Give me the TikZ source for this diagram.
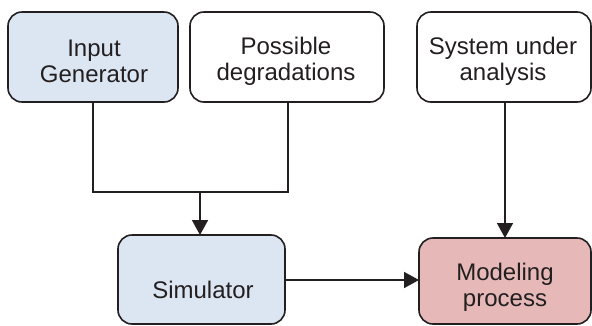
\documentclass[tikz,border=0pt]{standalone}
\usepackage{fontspec}
\setmainfont{Liberation Sans}
\usetikzlibrary{arrows.meta}
\definecolor{bluefill}{HTML}{DCE6F2}
\definecolor{pinkfill}{HTML}{E6B9B8}
\definecolor{edge}{HTML}{231F20}
\begin{document}
\begin{tikzpicture}[x=1pt,y=-1pt,
  box/.style={draw=edge,line width=1.6pt,rounded corners=14pt},
  lbl/.style={font=\fontsize{24}{26}\selectfont,align=center,text=edge,inner sep=0pt},
  conn/.style={draw=edge,line width=1.6pt},
  arr/.style={conn,-{Triangle[width=16pt,length=15pt]}}]
\useasboundingbox (0,0) rectangle (592,325);
% boxes
\draw[box,fill=bluefill] (8,12) rectangle (178,102);
\node[lbl] (ig) at (94,61) {Input\\Generator};
\coordinate (igb) at (93,102);
\draw[box,fill=white] (190,12) rectangle (384,102);
\node[lbl] (pd) at (286,61) {Possible\\degradations};
\coordinate (pdb) at (288,102);
\draw[box,fill=white] (417,12) rectangle (591,102);
\node[lbl] (sa) at (503,61) {System under\\analysis};
\coordinate (sab) at (505,102);
\draw[box,fill=bluefill] (118,235) rectangle (285,324);
\node[lbl,anchor=base] (sim) at (203,298) {Simulator};
\coordinate (simt) at (200,235);
\coordinate (simr) at (285,280);
\draw[box,fill=pinkfill] (419,238) rectangle (591,324);
\node[lbl] (mp) at (505,287) {Modeling\\process};
\coordinate (mpt) at (505,238);
\coordinate (mpl) at (419,280);
% connectors
\coordinate (j) at (200,192);
\draw[conn] (igb) |- (j) -| (pdb);
\draw[arr] (j) -- (simt);
\draw[arr] (sab) -- (mpt);
\draw[arr] (simr) -- (mpl);
\end{tikzpicture}
\end{document}
